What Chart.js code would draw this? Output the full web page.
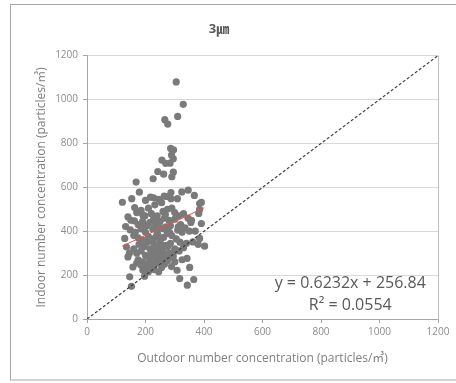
<!DOCTYPE html>
<html>
<head>
<meta charset="utf-8">
<script src="https://cdn.jsdelivr.net/npm/chart.js@4.4.1/dist/chart.umd.min.js"></script>
<style>
  html, body { margin: 0; padding: 0; background: #fff; }
  #wrap { width: 456px; height: 383px; position: relative; }
</style>
</head>
<body>
<div id="wrap"><canvas id="myChart" width="456" height="383"></canvas></div>
<script>
// outdoor (x) / indoor (y) concentration
const outdoor = [
  305,329,310,266,276,286,296,289,256,295,269,284,242,262,295,290,226,168,179,287,324,346,367,121,153,217,228,264,273,287,309,391,163,385,140,191,
  200,245,255,232,210,185,170,198,220,240,260,275,290,300,315,330,345,355,382,385,391,357,150,162,132,148,175,190,205,215,235,250,265,280,300,320,335,350,255,270,225,240,185,165,200,285,310,325,370,
  129,135,160,175,190,210,225,238,250,262,275,290,305,318,340,362,385,402,380,178,195,215,230,245,258,270,285,300,315,330,205,220,235,250,265,280,295,185,170,160,200,145,
  140,157,146,152,191,289,308,342,317,343,365,351,175,190,205,215,228,240,255,265,275,200,210,230,245,260,185,170,197,220,280,300,325,210,235,250,
  242,228,213,268,282,258,236,222,248,203,188,276,262,296,312
];
const indoor = [
  1080,978,923,908,888,777,771,747,724,730,709,710,672,660,669,648,639,624,578,576,579,587,563,532,548,555,552,560,558,548,548,531,508,526,465,473,
  540,545,530,520,505,495,485,470,480,470,490,500,505,485,470,480,460,440,481,499,435,450,450,447,421,406,430,445,425,440,430,445,460,450,455,430,415,400,415,420,410,400,410,395,395,425,405,395,400,
  367,328,380,370,360,375,365,380,350,372,390,380,365,350,345,351,367,332,340,340,330,320,340,325,310,335,345,320,310,325,350,300,305,290,295,300,285,310,300,320,290,300,
  283,237,192,149,222,239,222,276,184,154,180,235,270,260,250,270,245,260,235,250,265,230,215,225,215,275,245,255,195,280,280,260,270,240,280,265,
  385,455,355,475,395,335,255,315,365,285,430,330,410,305,420
];
// regression line end points and the 1:1 line
const trendX = [121, 401];
const trendY = [332, 507];
const oneToOneX = [0, 1200];
const oneToOneY = [0, 1200];
const eqLines = ['y = 0.6232x + 256.84', 'R\u00b2 = 0.0554'];

const pts = outdoor.map((x, i) => ({ x: x, y: indoor[i] }));
const toXY = (xs, ys) => xs.map((x, i) => ({ x: x, y: ys[i] }));

const fontFam = "'Open Sans', 'Noto Sans CJK KR', sans-serif";

const extras = {
  id: 'extras',
  afterDraw(chart) {
    const { ctx, chartArea: a, scales } = chart;
    ctx.save();
    ctx.strokeStyle = '#a6a6a6';
    ctx.lineWidth = 1;
    ctx.strokeRect(10.5, 4.5, 460, 375.5);
    ctx.strokeStyle = '#bfbfbf';
    ctx.beginPath();
    ctx.moveTo(a.right + 0.5, a.top);
    ctx.lineTo(a.right + 0.5, a.bottom);
    ctx.stroke();
    // equation label
    ctx.fillStyle = '#595959';
    ctx.font = "16px " + fontFam;
    ctx.textAlign = 'center';
    ctx.textBaseline = 'middle';
    const cx = scales.x.getPixelForValue(900);
    ctx.fillText(eqLines[0], cx, scales.y.getPixelForValue(163));
    ctx.fillText(eqLines[1], cx, scales.y.getPixelForValue(62));
    ctx.restore();
  }
};

const ctx = document.getElementById('myChart');
const myChart = new Chart(ctx, {
  type: 'scatter',
  data: {
    datasets: [
      {
        type: 'line',
        data: toXY(oneToOneX, oneToOneY),
        borderColor: '#404040',
        borderWidth: 1.2,
        borderDash: [3, 2],
        pointRadius: 0,
        fill: false
      },
      {
        type: 'line',
        data: toXY(trendX, trendY),
        borderColor: '#e8524f',
        borderWidth: 1,
        pointRadius: 0,
        fill: false
      },
      {
        data: pts,
        backgroundColor: '#7a7a7a',
        borderColor: '#7a7a7a',
        borderWidth: 0,
        pointRadius: 3.6
      }
    ]
  },
  options: {
    responsive: false,
    animation: false,
    events: [],
    layout: { padding: { left: 0, right: 18, top: 0, bottom: 10 } },
    plugins: {
      legend: { display: false },
      tooltip: { enabled: false },
      title: {
        display: true,
        text: '3\u339b',
        color: '#595959',
        font: { family: fontFam, size: 13, weight: 'bold' },
        padding: { top: 21, bottom: 19 }
      }
    },
    scales: {
      x: {
        type: 'linear',
        min: 0, max: 1200,
        ticks: { stepSize: 200, color: '#8c8c8c', font: { family: fontFam, size: 10 }, padding: 3, maxRotation: 0, callback: v => String(v) },
        grid: { display: true, drawOnChartArea: false, tickLength: 4, tickColor: '#a6a6a6' },
        border: { color: '#a6a6a6' },
        title: {
          display: true,
          text: 'Outdoor number concentration (particles/\u33a5)',
          color: '#7f7f7f',
          font: { family: fontFam, size: 12 },
          padding: { top: 0, bottom: 7 }
        },
        afterFit(scale) { scale.height = 54; }
      },
      y: {
        type: 'linear',
        min: 0, max: 1200,
        ticks: { stepSize: 200, color: '#8c8c8c', font: { family: fontFam, size: 10 }, padding: 5, callback: v => String(v) },
        grid: { color: '#d9d9d9', tickLength: 4, tickColor: '#a6a6a6' },
        border: { color: '#a6a6a6' },
        title: {
          display: true,
          text: 'Indoor number concentration (particles/\u33a5)',
          color: '#7f7f7f',
          font: { family: fontFam, size: 12 },
          padding: { top: 34, bottom: 0 }
        },
        afterFit(scale) { scale.width = 87; }
      }
    }
  },
  plugins: [extras]
});
</script>
</body>
</html>
